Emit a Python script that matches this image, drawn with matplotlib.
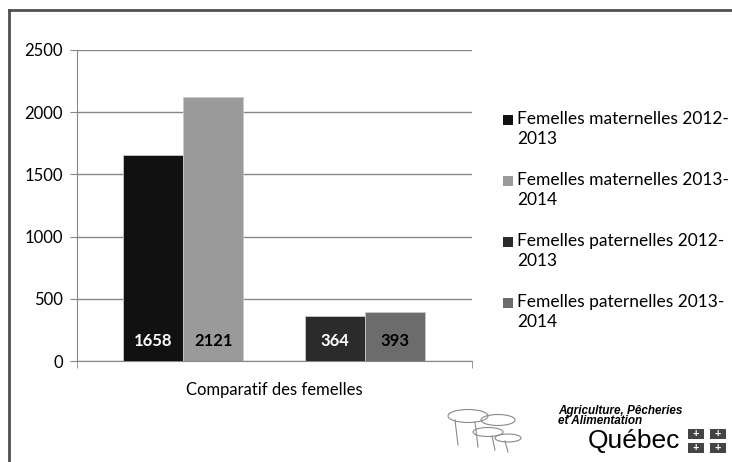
import matplotlib.pyplot as plt
from matplotlib.patches import Rectangle, Ellipse

series = ['Femelles maternelles 2012-\n2013', 'Femelles maternelles 2013-\n2014',
          'Femelles paternelles 2012-\n2013', 'Femelles paternelles 2013-\n2014']
values = [1658, 2121, 364, 393]
colors = ['#111111', '#9a9a9a', '#2b2b2b', '#6c6c6c']
label_colors = ['white', 'black', 'white', 'black']
category = 'Comparatif des femelles'

plt.rcParams['font.family'] = ['Lato', 'DejaVu Sans']
fs = 12

fig = plt.figure(figsize=(7.32, 4.62), dpi=100)
ax = fig.add_axes([77 / 732, 1 - 361 / 462, 395 / 732, 311 / 462])

# left edges of the bars, in axis fraction
positions = [0.117, 0.269, 0.577, 0.729]
width = 0.152
bars = ax.bar(positions, values, width=width, align='edge', color=colors, label=series,
              edgecolor='#c8c8c8', linewidth=0.6, zorder=3)
for b, v, c in zip(bars, values, label_colors):
    ax.text(b.get_x() + b.get_width() / 2, 160, str(v), ha='center', va='center',
            color=c, fontsize=fs, fontweight='bold', zorder=4)

ax.set_xlim(0, 1)
ax.set_ylim(0, 2500)
ax.set_yticks(range(0, 2501, 500))
ax.yaxis.grid(True, color='#878787', linewidth=1)
ax.set_axisbelow(True)
ax.set_xticks([0.5])
ax.set_xticklabels([category], fontsize=fs)
ax.tick_params(axis='x', length=0, pad=15)
ax.set_xticks([0, 1], minor=True)
ax.tick_params(axis='x', which='minor', length=5, color='#878787')
ax.tick_params(axis='y', length=5, color='#878787', labelsize=fs, pad=5)
for s in ['top', 'right']:
    ax.spines[s].set_visible(False)
ax.spines['left'].set_color('#878787')
ax.spines['bottom'].set_color('#878787')

# legend: square beside the first line of each two-line label
for i, (lab, col) in enumerate(zip(series, colors)):
    y = 120 + 61 * i
    fig.add_artist(Rectangle((503 / 732, 1 - (y + 5) / 462), 10 / 732, 10 / 462,
                             facecolor=col, edgecolor='none', transform=fig.transFigure))
    fig.text(517 / 732, 1 - (y - 9) / 462, lab, fontsize=12.5, ha='left', va='top', linespacing=1.3)

# outer frame (left and top edges visible)
fig.add_artist(plt.Line2D([9 / 732, 9 / 732], [0, 1 - 10 / 462], color='#505050', lw=2, transform=fig.transFigure))
fig.add_artist(plt.Line2D([9 / 732, 1], [1 - 10 / 462, 1 - 10 / 462], color='#505050', lw=2, transform=fig.transFigure))

# logo
for (cx, cy, w, h) in [(468, 416, 40, 13), (498, 420, 34, 11), (488, 432, 30, 9), (508, 438, 26, 8)]:
    fig.add_artist(Ellipse((cx / 732, 1 - cy / 462), w / 732, h / 462, fill=False,
                           edgecolor='#8a8a8a', lw=0.8, transform=fig.transFigure))
for (x0, y0, y1) in [(455, 420, 445), (475, 422, 447), (492, 436, 450), (505, 441, 452)]:
    fig.add_artist(plt.Line2D([x0 / 732, (x0 + 3) / 732], [1 - y0 / 462, 1 - y1 / 462],
                              color='#8a8a8a', lw=0.8, transform=fig.transFigure))
fig.text(558 / 732, 1 - 416 / 462, 'Agriculture, Pêcheries\net Alimentation', fontsize=8.5,
         fontweight='bold', style='italic', family=['Liberation Sans', 'DejaVu Sans'],
         va='center', ha='left', linespacing=0.85)
fig.text(588 / 732, 1 - 441 / 462, 'Québec', fontsize=19, family=['Liberation Sans', 'DejaVu Sans'],
         va='center', ha='left')
for (sx, sy) in [(688, 429), (710, 429), (688, 443), (710, 443)]:
    fig.add_artist(Rectangle((sx / 732, 1 - (sy + 10) / 462), 16 / 732, 10 / 462,
                             facecolor='#444444', edgecolor='none', transform=fig.transFigure))
    fig.text((sx + 8) / 732, 1 - (sy + 5) / 462, '+', color='white', fontsize=8,
             ha='center', va='center', fontweight='bold')

fig.savefig('out.png', dpi=100)
